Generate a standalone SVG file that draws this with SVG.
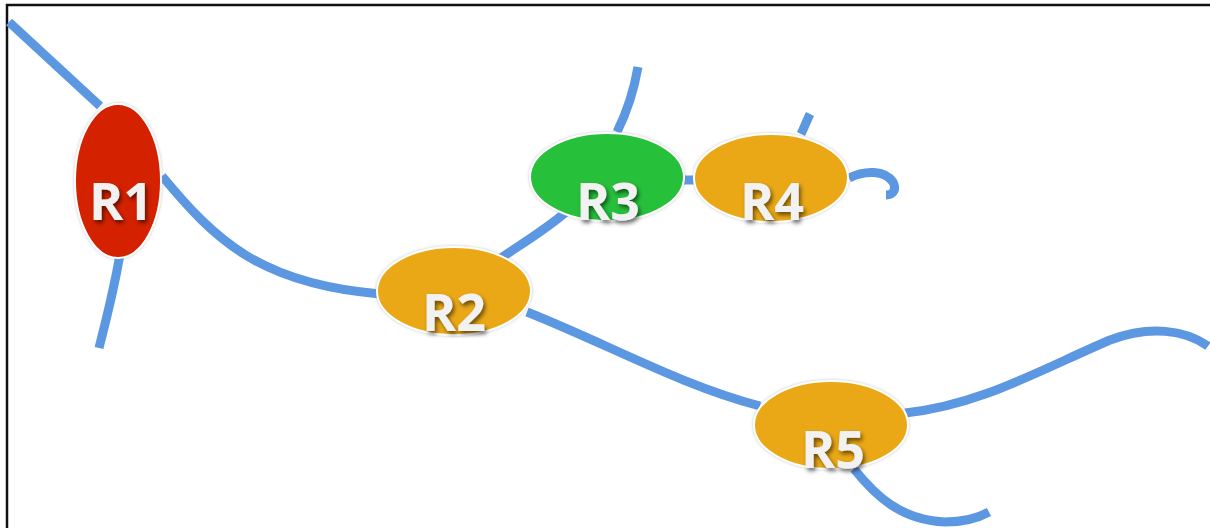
<svg xmlns="http://www.w3.org/2000/svg" width="1210" height="528" viewBox="0 0 1210 528">
<defs>
<filter id="ts" x="-20%" y="-20%" width="140%" height="160%">
<feDropShadow dx="2" dy="3" stdDeviation="2" flood-color="#000" flood-opacity="0.55"/>
</filter>
<filter id="ns" x="-10%" y="-10%" width="120%" height="120%">
<feDropShadow dx="0" dy="0" stdDeviation="1.5" flood-color="#888" flood-opacity="0.5"/>
</filter>
</defs>
<style>
.c{fill:none;stroke:#5c97e2;stroke-width:9;stroke-linecap:butt}
.n{stroke:#ffffff;stroke-width:2;filter:url(#ns)}
.t{font-family:"Open Sans","DejaVu Sans",sans-serif;font-weight:700;font-size:52px;fill:#f2f2f2;text-anchor:middle;filter:url(#ts)}
</style>
<rect width="1210" height="528" fill="#fff"/>
<path d="M7 528 V5 H1210" fill="none" stroke="#111" stroke-width="2.5"/>
<g id="connectors">
<path class="c" d="M9 22 L100 106"/>
<path class="c" d="M162 176 C215 240 260 284 380 294"/>
<path class="c" d="M120 254 C114 290 106 320 99 348"/>
<path class="c" d="M527 312 C610 345 680 385 760 406"/>
<path class="c" d="M905 413 C980 405 1040 370 1110 340 C1150 325 1185 330 1208 346"/>
<path class="c" d="M501 258 C520 245 545 230 566 212"/>
<path class="c" d="M617 132 C628 110 634 90 638 67"/>
<path class="c" d="M684 180 L696 180"/>
<path class="c" d="M801 134 C805 126 807 120 810 114"/>
<path class="c" d="M849 178 C865 170 885 170 893 182 C897 190 893 195 886 195"/>
<path class="c" d="M854 469 C875 495 900 520 945 522 C965 522 978 518 989 512"/>
</g>
<g id="R1"><ellipse class="n" cx="118" cy="181" rx="43" ry="77" fill="#d42000"/><text class="t" x="121" y="220">R1</text></g>
<g id="R2"><ellipse class="n" cx="454" cy="291" rx="77" ry="44" fill="#eaa812"/><text class="t" x="454" y="331">R2</text></g>
<g id="R3"><ellipse class="n" cx="607" cy="177" rx="77" ry="44" fill="#27c03a"/><text class="t" x="608" y="220">R3</text></g>
<g id="R4"><ellipse class="n" cx="771" cy="178" rx="77" ry="44" fill="#eaa812"/><text class="t" x="772" y="220">R4</text></g>
<g id="R5"><ellipse class="n" cx="831" cy="425" rx="77" ry="44" fill="#eaa812"/><text class="t" x="833" y="468">R5</text></g>
</svg>
